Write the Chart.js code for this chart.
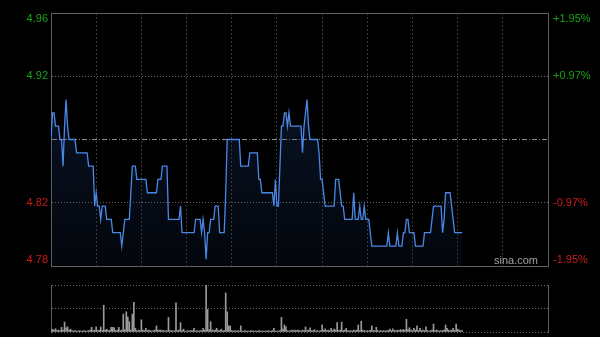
<!DOCTYPE html>
<html><head><meta charset="utf-8">
<script src="https://cdn.jsdelivr.net/npm/chart.js@4/dist/chart.umd.min.js"></script>
<style>
html,body{margin:0;padding:0;background:#000;width:600px;height:337px;overflow:hidden}
#main{position:absolute;left:0;top:0}
#vol{position:absolute;left:0;top:280px}
</style></head><body>
<canvas id="main" width="600" height="280"></canvas>
<canvas id="vol" width="600" height="57"></canvas>
<script>
// minute-by-minute price (HK session, 330 minutes; data up to ~14:33)
const prices = [
4.87,4.89,4.89,4.88,4.88,4.88,4.87,4.87,4.85,4.88,
4.90,4.88,4.87,4.87,4.87,4.87,4.87,4.86,4.86,4.86,
4.86,4.86,4.86,4.86,4.86,4.85,4.85,4.85,4.85,4.82,
4.83,4.82,4.82,4.81,4.82,4.82,4.82,4.81,4.81,4.81,
4.81,4.80,4.80,4.80,4.80,4.80,4.80,4.79,4.80,4.81,
4.81,4.81,4.81,4.83,4.85,4.85,4.85,4.84,4.84,4.84,
4.84,4.84,4.84,4.84,4.83,4.83,4.83,4.83,4.83,4.83,
4.83,4.84,4.84,4.84,4.85,4.85,4.85,4.85,4.81,4.81,
4.81,4.81,4.81,4.81,4.81,4.81,4.82,4.80,4.80,4.80,
4.80,4.80,4.80,4.80,4.80,4.80,4.81,4.81,4.81,4.81,
4.80,4.81,4.80,4.78,4.80,4.80,4.81,4.81,4.81,4.82,
4.82,4.82,4.80,4.80,4.80,4.80,4.83,4.87,4.87,4.87,
4.87,4.87,4.87,4.87,4.87,4.87,4.85,4.85,4.85,4.85,
4.85,4.85,4.86,4.86,4.86,4.86,4.86,4.86,4.84,4.84,
4.83,4.83,4.83,4.83,4.83,4.83,4.83,4.83,4.82,4.84,
4.82,4.82,4.85,4.88,4.88,4.89,4.89,4.88,4.89,4.88,
4.88,4.88,4.88,4.88,4.88,4.88,4.88,4.86,4.88,4.89,
4.90,4.88,4.87,4.87,4.87,4.87,4.87,4.87,4.86,4.84,
4.84,4.83,4.82,4.82,4.82,4.82,4.82,4.82,4.82,4.84,
4.84,4.84,4.83,4.82,4.82,4.81,4.81,4.81,4.81,4.81,
4.81,4.83,4.81,4.81,4.81,4.82,4.81,4.81,4.82,4.81,
4.81,4.81,4.80,4.79,4.79,4.79,4.79,4.79,4.79,4.79,
4.79,4.79,4.79,4.79,4.80,4.79,4.79,4.79,4.79,4.79,
4.80,4.79,4.79,4.79,4.80,4.80,4.81,4.81,4.80,4.80,
4.80,4.80,4.79,4.79,4.79,4.79,4.79,4.79,4.80,4.80,
4.80,4.80,4.80,4.81,4.82,4.82,4.82,4.82,4.82,4.82,
4.80,4.81,4.83,4.83,4.83,4.83,4.82,4.81,4.80,4.80,
4.80,4.80,4.80,4.80
];
// minute volumes (relative units, max bar = 100)
const volumes = [
3,6,4,7,3,4,3,10,4,21,
9,11,4,6,3,2,3,2,2,3,
2,2,3,2,2,3,4,10,3,4,
11,3,4,11,3,57,4,6,3,4,
10,10,9,3,4,10,3,4,38,5,
43,32,22,4,38,63,8,3,4,3,
26,4,3,8,3,4,3,2,3,4,
13,4,4,4,3,3,2,3,31,3,
3,2,3,62,3,4,20,3,6,2,
2,3,2,3,3,8,2,3,2,3,
3,8,4,100,48,5,22,4,3,4,
8,3,3,6,3,3,83,43,13,13,
3,2,3,2,3,2,13,2,2,3,
2,2,2,3,2,2,2,2,3,2,
2,2,2,2,3,2,2,3,8,2,
2,2,3,31,6,15,11,3,2,3,
4,3,4,3,4,3,2,4,3,11,
3,4,9,3,3,5,2,3,2,3,
15,4,7,3,4,3,8,3,6,4,
20,3,4,21,3,4,8,3,2,3,
2,4,3,4,15,3,23,4,3,2,
3,2,4,13,3,3,10,3,2,3,
2,3,2,3,3,6,3,7,3,3,
4,3,5,4,5,4,27,5,9,4,
3,8,4,13,3,8,3,4,3,11,
3,2,3,4,17,3,4,3,2,3,
3,4,15,8,4,3,4,8,3,17,
6,4,3,3
];
const sessionMinutes = 330;
const timeGridMinutes = [0,30,60,90,120,150,180,210,240,270,300,330];
const priceTicks = [4.965, 4.9175, 4.87, 4.8225, 4.775];
const leftTickLabels = ['4.96','4.92','','4.82','4.78'];
const rightTickLabels = ['+1.95%','+0.97%','','-0.97%','-1.95%'];
const volumeTicks = [0, 50, 100];
const volumeMax = 100;

const FONT = {family:'"Liberation Sans", Arial, sans-serif', size:11, lineHeight:1.1};
const GREEN = '#17a317', RED = '#cc1c1c', FRAME = '#5f5f5f';
const shiftLabel = (arr, i) => i === 0 ? ['', arr[i]] : (i === arr.length - 1 ? [arr[i], ''] : arr[i]);
const tickColor = c => c.index < 2 ? GREEN : RED;
const noPad = s => { s.paddingTop = 0; s.paddingBottom = 0; };

new Chart(document.getElementById('main'), {
  type: 'line',
  data: { datasets: [{
    data: prices.map((p, i) => ({x: i, y: p})),
    borderColor: '#4a88e6', borderWidth: 1.3, pointRadius: 0, tension: 0,
    fill: 'start',
    backgroundColor: ctx => {
      const a = ctx.chart.chartArea;
      if (!a) return 'rgba(0,0,0,0)';
      const g = ctx.chart.ctx.createLinearGradient(0, a.top, 0, a.bottom);
      g.addColorStop(0, 'rgba(40,80,160,0.30)');
      g.addColorStop(1, 'rgba(40,80,160,0.07)');
      return g;
    }
  }]},
  options: {
    responsive: false, animation: false, devicePixelRatio: 1,
    layout: {padding: {top: 13, bottom: 14, left: 0, right: 0}},
    plugins: {legend: {display: false}, tooltip: {enabled: false}},
    scales: {
      x: {type: 'linear', min: 0, max: sessionMinutes, offset: false,
        afterBuildTicks: s => { s.ticks = timeGridMinutes.map(v => ({value: v})); },
        afterFit: s => { s.height = 0; s.paddingLeft = 0; s.paddingRight = 0; },
        ticks: {display: false},
        grid: {drawTicks: false, lineWidth: 1,
          color: c => (c.tick && (c.tick.value === 0 || c.tick.value === sessionMinutes)) ? 'rgba(0,0,0,0)' : '#363636'},
        border: {display: true, color: FRAME, dash: [2, 2]}
      },
      xTop: {type: 'linear', position: 'top', min: 0, max: sessionMinutes,
        afterFit: s => { s.height = 0; s.paddingLeft = 0; s.paddingRight = 0; },
        ticks: {display: false}, grid: {display: false, drawTicks: false},
        border: {display: true, color: FRAME}
      },
      y: {position: 'left', min: 4.775, max: 4.965,
        afterBuildTicks: s => { s.ticks = priceTicks.map(v => ({value: v})); },
        afterFit: s => { s.width = 51; noPad(s); },
        ticks: {padding: 3, font: FONT, color: tickColor, callback: (v, i) => shiftLabel(leftTickLabels, i)},
        grid: {drawTicks: false,
          color: c => (c.index === 0 || c.index === 4) ? 'rgba(0,0,0,0)' : (c.index === 2 ? '#8c8c8c' : '#666')},
        border: {display: true, color: FRAME, dash: c => c.index === 2 ? [5, 2, 1, 2] : [1, 2]}
      },
      y2: {position: 'right', min: 4.775, max: 4.965,
        afterBuildTicks: s => { s.ticks = priceTicks.map(v => ({value: v})); },
        afterFit: s => { s.width = 52; noPad(s); },
        ticks: {padding: 5, font: FONT, color: tickColor, callback: (v, i) => shiftLabel(rightTickLabels, i)},
        grid: {drawOnChartArea: false, drawTicks: false},
        border: {display: true, color: FRAME}
      }
    }
  },
  plugins: [{
    id: 'sina',
    afterDatasetsDraw(chart) {
      const a = chart.chartArea, ctx = chart.ctx;
      ctx.save();
      ctx.font = '11px "Liberation Sans", Arial, sans-serif';
      ctx.fillStyle = '#a0a0a0';
      ctx.textAlign = 'right';
      ctx.textBaseline = 'middle';
      ctx.fillText('sina.com', a.right - 10, a.bottom - 5);
      ctx.restore();
    }
  }]
});

new Chart(document.getElementById('vol'), {
  type: 'bar',
  data: { datasets: [{
    data: volumes.map((v, i) => ({x: i, y: v})),
    backgroundColor: '#9a9a9a', barThickness: 1, grouped: false
  }]},
  options: {
    responsive: false, animation: false, devicePixelRatio: 1,
    layout: {padding: {top: 5, bottom: 5, left: 0, right: 0}},
    plugins: {legend: {display: false}, tooltip: {enabled: false}},
    scales: {
      x: {type: 'linear', min: 0, max: sessionMinutes, offset: false,
        afterFit: s => { s.height = 0; s.paddingLeft = 0; s.paddingRight = 0; },
        ticks: {display: false}, grid: {display: false, drawTicks: false, offset: false},
        border: {display: false}
      },
      y: {position: 'left', min: 0, max: volumeMax,
        afterBuildTicks: s => { s.ticks = volumeTicks.map(v => ({value: v})); },
        afterFit: s => { s.width = 51; noPad(s); },
        ticks: {display: false},
        grid: {drawTicks: false, color: '#666'},
        border: {display: true, color: FRAME, dash: [1, 2]}
      },
      y2: {position: 'right', min: 0, max: volumeMax,
        afterFit: s => { s.width = 52; noPad(s); },
        ticks: {display: false},
        grid: {display: false, drawTicks: false},
        border: {display: true, color: FRAME}
      }
    }
  }
});
</script>
</body></html>
